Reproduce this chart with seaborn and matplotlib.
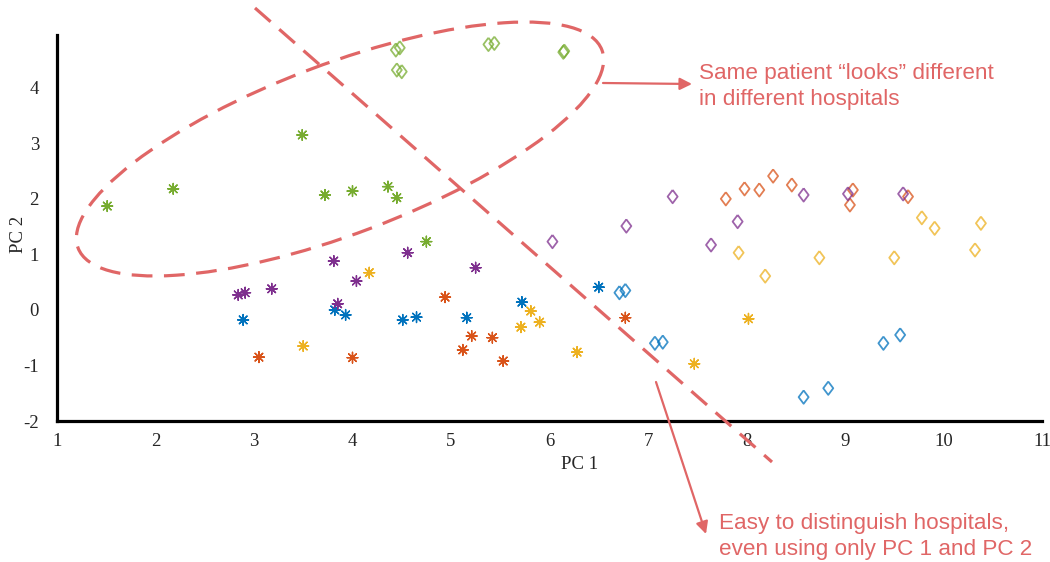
import numpy as np
import pandas as pd
import matplotlib
matplotlib.use("Agg")
import matplotlib.pyplot as plt
from matplotlib.patches import Ellipse
import seaborn as sns

# Hospital identifiers and their colours
hospitals = ["A", "B", "C", "D", "E"]
hospital_colors = ["#0072BD", "#D95319", "#EDB120", "#7E2F8E", "#77AC30"]

# First group of samples (asterisks)
star_pc1 = [2.89, 3.82, 3.93, 4.51, 4.65, 5.16, 5.72, 6.50,
            3.05, 4.00, 4.94, 5.12, 5.21, 5.42, 5.53, 6.77,
            3.50, 4.17, 5.81, 5.71, 5.90, 6.28, 7.47, 8.02,
            2.84, 2.91, 3.18, 3.81, 3.85, 4.04, 4.56, 5.25,
            1.51, 2.18, 3.49, 3.72, 4.00, 4.36, 4.45, 4.75]
star_pc2 = [-0.18, 0.00, -0.09, -0.18, -0.13, -0.14, 0.14, 0.41,
            -0.85, -0.86, 0.23, -0.72, -0.47, -0.50, -0.92, -0.14,
            -0.65, 0.67, -0.02, -0.31, -0.22, -0.76, -0.97, -0.16,
            0.27, 0.31, 0.38, 0.88, 0.11, 0.52, 1.03, 0.76,
            1.87, 2.18, 3.15, 2.07, 2.14, 2.22, 2.02, 1.23]
star_hospital = ["A"] * 8 + ["B"] * 8 + ["C"] * 8 + ["D"] * 8 + ["E"] * 8

# Second group of samples (open diamonds)
diamond_pc1 = [6.71, 6.77, 7.07, 7.15, 9.39, 9.56, 8.58, 8.83,
               7.79, 7.98, 8.13, 8.27, 8.46, 9.08, 9.05, 9.64,
               7.92, 8.19, 8.74, 9.50, 9.78, 9.91, 10.32, 10.38,
               6.03, 6.78, 7.25, 7.64, 7.91, 8.58, 9.03, 9.59,
               4.44, 4.48, 4.45, 4.50, 5.38, 5.44, 6.14, 6.15]
diamond_pc2 = [0.31, 0.35, -0.60, -0.58, -0.60, -0.45, -1.57, -1.41,
               2.00, 2.18, 2.16, 2.41, 2.25, 2.16, 1.89, 2.04,
               1.03, 0.61, 0.94, 0.94, 1.66, 1.47, 1.08, 1.56,
               1.23, 1.51, 2.04, 1.17, 1.59, 2.07, 2.09, 2.09,
               4.68, 4.72, 4.32, 4.29, 4.78, 4.80, 4.64, 4.66]
diamond_hospital = ["A"] * 8 + ["B"] * 8 + ["C"] * 8 + ["D"] * 8 + ["E"] * 8

x_ticks = [1, 2, 3, 4, 5, 6, 7, 8, 9, 10, 11]
y_ticks = [-2, -1, 0, 1, 2, 3, 4]

note_color = "#E06666"

sns.set_style("white")
plt.rcParams["font.family"] = ["Liberation Serif", "DejaVu Serif"]

stars = pd.DataFrame({"PC 1": star_pc1, "PC 2": star_pc2, "hospital": star_hospital})
diamonds = pd.DataFrame({"PC 1": diamond_pc1, "PC 2": diamond_pc2,
                         "hospital": diamond_hospital})
palette = dict(zip(hospitals, hospital_colors))

fig = plt.figure(figsize=(10.5, 5.62), dpi=100)
ax = fig.add_axes([57 / 1050, 1 - 421 / 562, 985 / 1050, 386 / 562])

sns.scatterplot(data=stars, x="PC 1", y="PC 2", hue="hospital", palette=palette,
                marker=(8, 2, 0), s=60, linewidth=1.0, legend=False, ax=ax, zorder=3)

diamond_verts = [(0, 1), (0.75, 0), (0, -1), (-0.75, 0), (0, 1)]
sns.scatterplot(data=diamonds, x="PC 1", y="PC 2", hue="hospital", palette=palette,
                marker=diamond_verts, s=92, linewidth=1.3, legend=False, ax=ax, zorder=3)
coll = ax.collections[-1]
edge = np.array(coll.get_facecolors())
edge[:, 3] = 0.75
coll.set_edgecolors(edge)
coll.set_facecolors("none")

ax.set_xlim(1, 11)
ax.set_ylim(-2, 4.95)
ax.set_xticks(x_ticks)
ax.set_yticks(y_ticks)
ax.set_xticklabels([str(t) for t in x_ticks])
ax.set_yticklabels([str(t) for t in y_ticks])
ax.tick_params(axis="x", direction="in", length=9, width=1, color="#555555",
               labelsize=13.5, pad=9)
ax.tick_params(axis="y", direction="in", length=7, width=1, color="#555555",
               labelsize=13.5, pad=13)
for side in ("top", "right"):
    ax.spines[side].set_visible(False)
for side in ("left", "bottom"):
    ax.spines[side].set_color("black")
    ax.spines[side].set_linewidth(2.3)
ax.set_xlabel("PC 1", fontsize=13.5)
ax.set_ylabel("PC 2", fontsize=13.5)
ax.xaxis.set_label_coords((580 - 57) / 985, -(456 - 421) / 386)
ax.yaxis.set_label_coords(-(57 - 27) / 985, (421 - 234) / 386)
ax.grid(False)

# Annotation layer in pixel coordinates over the whole figure
over = fig.add_axes([0, 0, 1, 1], facecolor="none")
over.set_xlim(0, 1050)
over.set_ylim(562, 0)
over.axis("off")

dash = (0, (6.5, 3.6))
over.add_patch(Ellipse((340, 149), 560, 170, angle=-20.7, fill=False,
                       edgecolor=note_color, linewidth=2.3, linestyle=dash))
over.plot([255, 772], [8, 462], color=note_color, linewidth=2.3, linestyle=dash)

over.annotate("", xy=(692, 84), xytext=(603, 83),
              arrowprops=dict(arrowstyle="-|>", color=note_color, lw=1.6,
                              mutation_scale=18, shrinkA=0, shrinkB=0))
over.annotate("", xy=(706, 534), xytext=(656, 382),
              arrowprops=dict(arrowstyle="-|>", color=note_color, lw=1.6,
                              mutation_scale=18, shrinkA=0, shrinkB=0))

sans = ["Liberation Sans", "DejaVu Sans"]
for txt, x, y in [("Same patient \u201clooks\u201d different", 699, 79),
                  ("in different hospitals", 699, 105),
                  ("Easy to distinguish hospitals,", 719, 529),
                  ("even using only PC 1 and PC 2", 719, 555)]:
    over.text(x, y, txt, color=note_color, fontsize=16.2, family=sans,
              ha="left", va="baseline")

fig.savefig("out.png", dpi=100)
